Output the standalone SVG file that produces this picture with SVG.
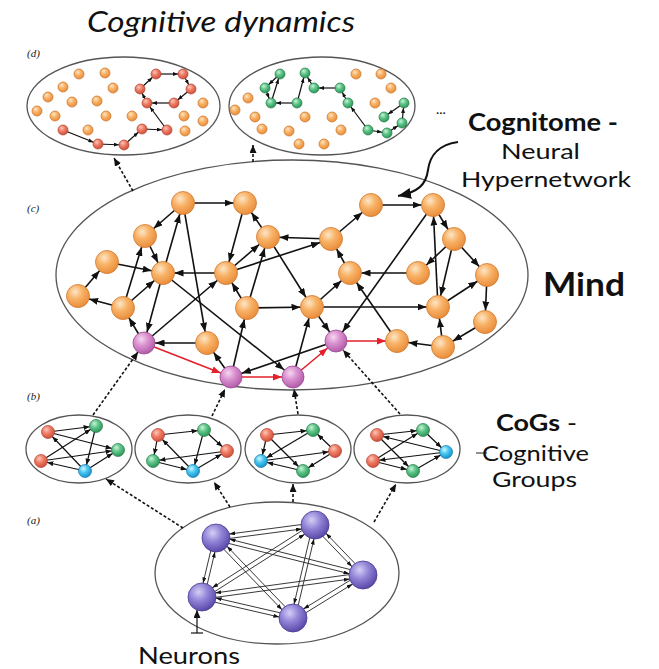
<svg xmlns="http://www.w3.org/2000/svg" width="659" height="669" viewBox="0 0 659 669">
<defs>
<radialGradient id="gOr" cx="0.38" cy="0.32" r="0.7"><stop offset="0" stop-color="#fde6c8"/><stop offset="0.45" stop-color="#f8b266"/><stop offset="1" stop-color="#e98c3a"/></radialGradient>
<radialGradient id="gPk" cx="0.38" cy="0.32" r="0.7"><stop offset="0" stop-color="#f6d6f0"/><stop offset="0.45" stop-color="#d990cf"/><stop offset="1" stop-color="#b15aa8"/></radialGradient>
<radialGradient id="gNe" cx="0.38" cy="0.32" r="0.7"><stop offset="0" stop-color="#d6cff5"/><stop offset="0.45" stop-color="#9385d8"/><stop offset="1" stop-color="#5a47a8"/></radialGradient>
<radialGradient id="gRd" cx="0.38" cy="0.32" r="0.7"><stop offset="0" stop-color="#fcc6b8"/><stop offset="0.45" stop-color="#ef7d66"/><stop offset="1" stop-color="#cf4d38"/></radialGradient>
<radialGradient id="gGr" cx="0.38" cy="0.32" r="0.7"><stop offset="0" stop-color="#c8f3d6"/><stop offset="0.45" stop-color="#5fc58a"/><stop offset="1" stop-color="#2b9556"/></radialGradient>
<radialGradient id="gBl" cx="0.38" cy="0.32" r="0.7"><stop offset="0" stop-color="#d0f6ff"/><stop offset="0.45" stop-color="#48c6f0"/><stop offset="1" stop-color="#1890cc"/></radialGradient>
<marker id="mc" markerUnits="userSpaceOnUse" markerWidth="9" markerHeight="7" refX="20.5" refY="3.5" orient="auto"><path d="M0,0 L9,3.5 L0,7 z" fill="#111"/></marker>
<marker id="mr" markerUnits="userSpaceOnUse" markerWidth="9" markerHeight="7" refX="20" refY="3.5" orient="auto"><path d="M0,0 L9,3.5 L0,7 z" fill="#e3202b"/></marker>
<marker id="mb" markerUnits="userSpaceOnUse" markerWidth="6" markerHeight="5" refX="12.5" refY="2.5" orient="auto"><path d="M0,0 L6,2.5 L0,5 z" fill="#111"/></marker>
<marker id="md" markerUnits="userSpaceOnUse" markerWidth="5" markerHeight="4" refX="10" refY="2" orient="auto"><path d="M0,0 L5,2 L0,4 z" fill="#111"/></marker>
<marker id="mn" markerUnits="userSpaceOnUse" markerWidth="6" markerHeight="4" refX="19.5" refY="2" orient="auto"><path d="M0,0 L6,2 L0,4 z" fill="#111"/></marker>
<marker id="mt" markerUnits="userSpaceOnUse" markerWidth="8" markerHeight="7" refX="8" refY="3.5" orient="auto"><path d="M0,0 L8,3.5 L0,7 z" fill="#111"/></marker>
<marker id="mbig" markerUnits="userSpaceOnUse" markerWidth="13" markerHeight="11" refX="13" refY="5.5" orient="auto"><path d="M0,0 L13,5.5 L0,11 z" fill="#111"/></marker>
</defs>
<style>
.cont{fill:none;stroke:#555;stroke-width:1.3}
.e{stroke:#111;stroke-width:1.6;marker-end:url(#mc)}
.er{stroke:#e3202b;stroke-width:1.6;marker-end:url(#mr)}
.eb{stroke:#111;stroke-width:1.2;marker-end:url(#mb)}
.ed{stroke:#111;stroke-width:1.2;marker-end:url(#md)}
.en{stroke:#222;stroke-width:0.9;marker-end:url(#mn)}
.dash{stroke:#111;stroke-width:1.6;stroke-dasharray:3 2;fill:none;marker-end:url(#mt)}
.or{fill:url(#gOr);stroke:#cf7a32;stroke-width:0.8}
.pk{fill:url(#gPk);stroke:#9a4a92;stroke-width:0.8}
.ne{fill:url(#gNe);stroke:#4a3a90;stroke-width:0.8}
.rd{fill:url(#gRd);stroke:#b04030;stroke-width:0.7}
.gr{fill:url(#gGr);stroke:#237a45;stroke-width:0.7}
.bl{fill:url(#gBl);stroke:#1578a8;stroke-width:0.7}
.lab{font-family:'Liberation Serif',serif;font-style:italic;font-size:11px;fill:#222}
.t{font-family:Lato,'Open Sans',sans-serif;fill:#111}
</style>

<g id="texts">
<text class="t" x="87" y="32" font-size="28" font-style="italic" textLength="268" lengthAdjust="spacingAndGlyphs">Cognitive dynamics</text>
<text class="lab" x="27" y="57">(d)</text>
<text class="lab" x="27" y="212">(c)</text>
<text class="lab" x="27" y="400">(b)</text>
<text class="lab" x="27" y="524">(a)</text>
<text class="t" x="468" y="131" font-size="24" font-weight="bold" textLength="150" lengthAdjust="spacingAndGlyphs">Cognitome -</text>
<text class="t" x="501" y="159" font-size="22" textLength="79" lengthAdjust="spacingAndGlyphs">Neural</text>
<text class="t" x="461" y="187" font-size="22" textLength="170" lengthAdjust="spacingAndGlyphs">Hypernetwork</text>
<text class="t" x="543" y="296" font-size="32" font-weight="bold" textLength="82" lengthAdjust="spacingAndGlyphs">Mind</text>
<text class="t" x="496" y="431" font-size="23" textLength="81" lengthAdjust="spacingAndGlyphs"><tspan font-weight="bold">CoGs</tspan> -</text>
<text class="t" x="482" y="461" font-size="22" textLength="107" lengthAdjust="spacingAndGlyphs">Cognitive</text>
<text class="t" x="492" y="487" font-size="22" textLength="85" lengthAdjust="spacingAndGlyphs">Groups</text>
<text class="t" x="138" y="664" font-size="24" textLength="102" lengthAdjust="spacingAndGlyphs">Neurons</text>
<text class="t" x="436" y="114" font-size="14">...</text>
</g>

<g id="containers">
<ellipse id="d1" class="cont" cx="123.5" cy="106" rx="96.5" ry="49"/>
<ellipse id="d2" class="cont" cx="322" cy="106" rx="93" ry="49"/>
<ellipse id="c" class="cont" cx="292" cy="275" rx="236" ry="115"/>
<ellipse id="b1" class="cont" cx="79" cy="449" rx="53" ry="34"/>
<ellipse id="b2" class="cont" cx="188" cy="449" rx="53" ry="34"/>
<ellipse id="b3" class="cont" cx="298" cy="449" rx="53" ry="34"/>
<ellipse id="b4" class="cont" cx="407" cy="449" rx="53" ry="34"/>
<ellipse id="a" class="cont" cx="277" cy="573" rx="122" ry="71"/>
</g>

<g id="connectors">
<line class="dash" x1="133" y1="191" x2="114" y2="158"/>
<line class="dash" x1="253" y1="162" x2="253" y2="145"/>
<line class="dash" x1="93" y1="415" x2="138" y2="352"/>
<line class="dash" x1="212" y1="416" x2="225" y2="389"/>
<line class="dash" x1="298" y1="414" x2="294" y2="389"/>
<line class="dash" x1="400" y1="414" x2="343" y2="350"/>
<line class="dash" x1="183" y1="528" x2="106" y2="479"/>
<line class="dash" x1="230" y1="507" x2="214" y2="482"/>
<line class="dash" x1="293" y1="502" x2="293" y2="484"/>
<line class="dash" x1="374" y1="522" x2="396" y2="484"/>
<path d="M458,142 C438,145 430,155 428,170 C426,185 418,192 398,196" fill="none" stroke="#111" stroke-width="2" marker-end="url(#mbig)"/>
<line x1="197" y1="633" x2="197" y2="610" stroke="#111" stroke-width="1.2" marker-end="url(#mt)"/>
<line x1="191" y1="633" x2="203" y2="633" stroke="#111" stroke-width="1.2"/>
<line x1="476" y1="453" x2="487" y2="453" stroke="#222" stroke-width="1"/>

<line class="e" x1="183" y1="203" x2="245" y2="203"/>
<line class="e" x1="183" y1="203" x2="145" y2="236"/>
<line class="e" x1="163" y1="273" x2="183" y2="203"/>
<line class="e" x1="183" y1="203" x2="207" y2="343"/>
<line class="e" x1="245" y1="203" x2="226" y2="273"/>
<line class="e" x1="268" y1="237" x2="245" y2="203"/>
<line class="e" x1="331" y1="239" x2="268" y2="237"/>
<line class="e" x1="226" y1="273" x2="268" y2="237"/>
<line class="e" x1="247" y1="308" x2="268" y2="237"/>
<line class="e" x1="268" y1="237" x2="312" y2="307"/>
<line class="e" x1="145" y1="236" x2="163" y2="273"/>
<line class="e" x1="107" y1="262" x2="163" y2="273"/>
<line class="e" x1="226" y1="273" x2="163" y2="273"/>
<line class="e" x1="226" y1="273" x2="331" y2="239"/>
<line class="e" x1="78" y1="296" x2="107" y2="262"/>
<line class="e" x1="123" y1="308" x2="78" y2="296"/>
<line class="e" x1="123" y1="308" x2="145" y2="236"/>
<line class="e" x1="123" y1="308" x2="163" y2="273"/>
<line class="e" x1="163" y1="273" x2="144" y2="343"/>
<line class="e" x1="163" y1="273" x2="293" y2="377"/>
<line class="e" x1="144" y1="343" x2="123" y2="308"/>
<line class="e" x1="144" y1="343" x2="226" y2="273"/>
<line class="e" x1="207" y1="343" x2="144" y2="343"/>
<line class="er" x1="144" y1="343" x2="231" y2="377"/>
<line class="e" x1="231" y1="377" x2="207" y2="343"/>
<line class="e" x1="231" y1="377" x2="247" y2="308"/>
<line class="e" x1="247" y1="308" x2="226" y2="273"/>
<line class="e" x1="247" y1="308" x2="312" y2="307"/>
<line class="e" x1="336" y1="341" x2="231" y2="377"/>
<line class="er" x1="231" y1="377" x2="293" y2="377"/>
<line class="e" x1="371" y1="205" x2="433" y2="205"/>
<line class="e" x1="331" y1="239" x2="371" y2="205"/>
<line class="e" x1="350" y1="273" x2="331" y2="239"/>
<line class="e" x1="418" y1="273" x2="350" y2="273"/>
<line class="e" x1="312" y1="307" x2="350" y2="273"/>
<line class="e" x1="312" y1="307" x2="438" y2="307"/>
<line class="e" x1="312" y1="307" x2="336" y2="341"/>
<line class="e" x1="293" y1="377" x2="312" y2="307"/>
<line class="er" x1="293" y1="377" x2="336" y2="341"/>
<line class="er" x1="336" y1="341" x2="397" y2="341"/>
<line class="e" x1="433" y1="205" x2="336" y2="341"/>
<line class="e" x1="443" y1="347" x2="397" y2="341"/>
<line class="e" x1="397" y1="341" x2="350" y2="273"/>
<line class="e" x1="454" y1="239" x2="418" y2="273"/>
<line class="e" x1="433" y1="205" x2="454" y2="239"/>
<line class="e" x1="438" y1="307" x2="433" y2="205"/>
<line class="e" x1="454" y1="239" x2="438" y2="307"/>
<line class="e" x1="454" y1="239" x2="487" y2="275"/>
<line class="e" x1="438" y1="307" x2="487" y2="275"/>
<line class="e" x1="487" y1="275" x2="485" y2="322"/>
<line class="e" x1="485" y1="322" x2="443" y2="347"/>
<line class="e" x1="443" y1="347" x2="438" y2="307"/>

<line class="eb" x1="48" y1="432" x2="96" y2="426"/>
<line class="eb" x1="48" y1="432" x2="118" y2="450"/>
<line class="eb" x1="41" y1="461" x2="96" y2="426"/>
<line class="eb" x1="41" y1="461" x2="118" y2="450"/>
<line class="eb" x1="96" y1="426" x2="85" y2="471"/>
<line class="eb" x1="85" y1="471" x2="41" y2="461"/>
<line class="eb" x1="85" y1="471" x2="118" y2="450"/>
<line class="eb" x1="85" y1="471" x2="48" y2="432"/>

<line class="eb" x1="158" y1="435" x2="204" y2="430"/>
<line class="eb" x1="158" y1="435" x2="153" y2="461"/>
<line class="eb" x1="204" y1="430" x2="227" y2="451"/>
<line class="eb" x1="227" y1="451" x2="153" y2="461"/>
<line class="eb" x1="153" y1="461" x2="193" y2="471"/>
<line class="eb" x1="193" y1="471" x2="158" y2="435"/>
<line class="eb" x1="204" y1="430" x2="193" y2="471"/>
<line class="eb" x1="193" y1="471" x2="227" y2="451"/>

<line class="eb" x1="267" y1="435" x2="313" y2="430"/>
<line class="eb" x1="267" y1="435" x2="261" y2="461"/>
<line class="eb" x1="313" y1="430" x2="261" y2="461"/>
<line class="eb" x1="261" y1="461" x2="335" y2="451"/>
<line class="eb" x1="267" y1="435" x2="303" y2="471"/>
<line class="eb" x1="303" y1="471" x2="261" y2="461"/>
<line class="eb" x1="335" y1="451" x2="313" y2="430"/>
<line class="eb" x1="335" y1="451" x2="303" y2="471"/>

<line class="eb" x1="377" y1="435" x2="423" y2="430"/>
<line class="eb" x1="423" y1="430" x2="446" y2="452"/>
<line class="eb" x1="446" y1="452" x2="377" y2="435"/>
<line class="eb" x1="373" y1="461" x2="423" y2="430"/>
<line class="eb" x1="446" y1="452" x2="373" y2="461"/>
<line class="eb" x1="377" y1="435" x2="413" y2="471"/>
<line class="eb" x1="373" y1="461" x2="413" y2="471"/>
<line class="eb" x1="413" y1="471" x2="446" y2="452"/>

<line class="ed" x1="63" y1="130" x2="98" y2="144"/>
<line class="ed" x1="98" y1="144" x2="124" y2="145"/>
<line class="ed" x1="124" y1="145" x2="142" y2="129"/>
<line class="ed" x1="142" y1="129" x2="167" y2="130"/>
<line class="ed" x1="167" y1="130" x2="147" y2="103"/>
<line class="ed" x1="174" y1="103" x2="147" y2="103"/>
<line class="ed" x1="147" y1="103" x2="140" y2="89"/>
<line class="ed" x1="140" y1="89" x2="156" y2="74"/>
<line class="ed" x1="156" y1="74" x2="183" y2="74"/>
<line class="ed" x1="183" y1="74" x2="191" y2="89"/>
<line class="ed" x1="191" y1="89" x2="174" y2="103"/>

<line class="ed" x1="280" y1="74" x2="265" y2="88"/>
<line class="ed" x1="265" y1="88" x2="271" y2="103"/>
<line class="ed" x1="271" y1="103" x2="280" y2="74"/>
<line class="ed" x1="297" y1="103" x2="271" y2="103"/>
<line class="ed" x1="297" y1="103" x2="305" y2="73"/>
<line class="ed" x1="314" y1="88" x2="305" y2="73"/>
<line class="ed" x1="340" y1="88" x2="314" y2="88"/>
<line class="ed" x1="348" y1="103" x2="340" y2="88"/>
<line class="ed" x1="368" y1="130" x2="348" y2="103"/>
<line class="ed" x1="368" y1="130" x2="387" y2="133"/>
<line class="ed" x1="387" y1="133" x2="402" y2="123"/>
<line class="ed" x1="402" y1="123" x2="404" y2="103"/>
<line class="ed" x1="404" y1="103" x2="384" y2="117"/>

<line class="en" x1="216.3" y1="540.2" x2="315.3" y2="527.2"/><line class="en" x1="314.7" y1="522.8" x2="215.7" y2="535.8"/>
<line class="en" x1="215.5" y1="540.1" x2="362.5" y2="577.1"/><line class="en" x1="363.5" y1="572.9" x2="216.5" y2="535.9"/>
<line class="en" x1="213.9" y1="537.5" x2="199.9" y2="596.5"/><line class="en" x1="204.1" y1="597.5" x2="218.1" y2="538.5"/>
<line class="en" x1="214.4" y1="539.5" x2="291.4" y2="619.5"/><line class="en" x1="294.6" y1="616.5" x2="217.6" y2="536.5"/>
<line class="en" x1="313.4" y1="526.5" x2="361.4" y2="576.5"/><line class="en" x1="364.6" y1="573.5" x2="316.6" y2="523.5"/>
<line class="en" x1="313.8" y1="523.1" x2="200.8" y2="595.1"/><line class="en" x1="203.2" y1="598.9" x2="316.2" y2="526.9"/>
<line class="en" x1="312.9" y1="524.5" x2="290.9" y2="617.5"/><line class="en" x1="295.1" y1="618.5" x2="317.1" y2="525.5"/>
<line class="en" x1="362.7" y1="572.8" x2="201.7" y2="594.8"/><line class="en" x1="202.3" y1="599.2" x2="363.3" y2="577.2"/>
<line class="en" x1="361.8" y1="573.1" x2="291.8" y2="616.1"/><line class="en" x1="294.2" y1="619.9" x2="364.2" y2="576.9"/>
<line class="en" x1="201.5" y1="599.1" x2="292.5" y2="620.1"/><line class="en" x1="293.5" y1="615.9" x2="202.5" y2="594.9"/>
</g>

<g id="nodes-d">
<g id="d1-dots">
<circle class="or" cx="79" cy="74" r="5"/><circle class="or" cx="105" cy="73" r="5"/><circle class="or" cx="63" cy="87" r="5"/><circle class="or" cx="113" cy="88" r="5"/>
<circle class="or" cx="48" cy="97" r="5"/><circle class="or" cx="72" cy="102" r="5"/><circle class="or" cx="97" cy="101" r="5"/><circle class="or" cx="37" cy="111" r="5"/>
<circle class="or" cx="55" cy="116" r="5"/><circle class="or" cx="106" cy="116" r="5"/><circle class="or" cx="132" cy="116" r="5"/><circle class="or" cx="88" cy="130" r="5"/>
<circle class="or" cx="203" cy="103" r="5"/><circle class="or" cx="184" cy="116" r="5"/><circle class="or" cx="203" cy="121" r="5"/><circle class="or" cx="185" cy="131" r="5"/>
<circle class="rd" cx="63" cy="130" r="5"/><circle class="rd" cx="98" cy="144" r="5"/><circle class="rd" cx="124" cy="145" r="5"/><circle class="rd" cx="142" cy="129" r="5"/>
<circle class="rd" cx="167" cy="130" r="5"/><circle class="rd" cx="147" cy="103" r="5"/><circle class="rd" cx="174" cy="103" r="5"/><circle class="rd" cx="140" cy="89" r="5"/>
<circle class="rd" cx="156" cy="74" r="5"/><circle class="rd" cx="183" cy="74" r="5"/><circle class="rd" cx="191" cy="89" r="5"/>
</g>
<g id="d2-dots">
<circle class="or" cx="248" cy="98" r="5"/><circle class="or" cx="235" cy="110" r="5"/><circle class="or" cx="255" cy="117" r="5"/><circle class="or" cx="305" cy="117" r="5"/>
<circle class="or" cx="332" cy="117" r="5"/><circle class="or" cx="262" cy="129" r="5"/><circle class="or" cx="289" cy="131" r="5"/><circle class="or" cx="341" cy="130" r="5"/>
<circle class="or" cx="299" cy="144" r="5"/><circle class="or" cx="324" cy="144" r="5"/><circle class="or" cx="356" cy="74" r="5"/><circle class="or" cx="381" cy="74" r="5"/>
<circle class="or" cx="391" cy="88" r="5"/><circle class="or" cx="375" cy="103" r="5"/>
<circle class="gr" cx="280" cy="74" r="5"/><circle class="gr" cx="305" cy="73" r="5"/><circle class="gr" cx="265" cy="88" r="5"/><circle class="gr" cx="314" cy="88" r="5"/>
<circle class="gr" cx="340" cy="88" r="5"/><circle class="gr" cx="271" cy="103" r="5"/><circle class="gr" cx="297" cy="103" r="5"/><circle class="gr" cx="348" cy="103" r="5"/>
<circle class="gr" cx="404" cy="103" r="5"/><circle class="gr" cx="384" cy="117" r="5"/><circle class="gr" cx="402" cy="123" r="5"/><circle class="gr" cx="368" cy="130" r="5"/>
<circle class="gr" cx="387" cy="133" r="5"/>
</g>
</g>

<g id="nodes-c">
<g id="nA"><circle class="or" cx="183" cy="203" r="11.5"/></g>
<g id="nB"><circle class="or" cx="245" cy="203" r="11.5"/></g>
<g id="nC"><circle class="or" cx="145" cy="236" r="11.5"/></g>
<g id="nD"><circle class="or" cx="268" cy="237" r="11.5"/></g>
<g id="nE"><circle class="or" cx="107" cy="262" r="11.5"/></g>
<g id="nF"><circle class="or" cx="163" cy="273" r="11.5"/></g>
<g id="nG"><circle class="or" cx="226" cy="273" r="11.5"/></g>
<g id="nH"><circle class="or" cx="78" cy="296" r="11.5"/></g>
<g id="nI"><circle class="or" cx="123" cy="308" r="11.5"/></g>
<g id="nJ"><circle class="or" cx="247" cy="308" r="11.5"/></g>
<g id="nK"><circle class="or" cx="207" cy="343" r="11.5"/></g>
<g id="nL"><circle class="or" cx="371" cy="205" r="11.5"/></g>
<g id="nM"><circle class="or" cx="433" cy="205" r="11.5"/></g>
<g id="nN"><circle class="or" cx="331" cy="239" r="11.5"/></g>
<g id="nO"><circle class="or" cx="454" cy="239" r="11.5"/></g>
<g id="nQ"><circle class="or" cx="350" cy="273" r="11.5"/></g>
<g id="nR"><circle class="or" cx="418" cy="273" r="11.5"/></g>
<g id="nS"><circle class="or" cx="487" cy="275" r="11.5"/></g>
<g id="nT"><circle class="or" cx="312" cy="307" r="11.5"/></g>
<g id="nU"><circle class="or" cx="438" cy="307" r="11.5"/></g>
<g id="nV"><circle class="or" cx="485" cy="322" r="11.5"/></g>
<g id="nW"><circle class="or" cx="397" cy="341" r="11.5"/></g>
<g id="nX"><circle class="or" cx="443" cy="347" r="11.5"/></g>
<g id="nP1"><circle class="pk" cx="144" cy="343" r="11"/></g>
<g id="nP2"><circle class="pk" cx="231" cy="377" r="11"/></g>
<g id="nP3"><circle class="pk" cx="293" cy="377" r="11"/></g>
<g id="nP4"><circle class="pk" cx="336" cy="341" r="11"/></g>
</g>

<g id="nodes-b">
<g id="b1-nodes"><circle class="rd" cx="48" cy="432" r="6.5"/><circle class="gr" cx="96" cy="426" r="6.5"/><circle class="gr" cx="118" cy="450" r="6.5"/><circle class="rd" cx="41" cy="461" r="6.5"/><circle class="bl" cx="85" cy="471" r="6.5"/></g>
<g id="b2-nodes"><circle class="rd" cx="158" cy="435" r="6.5"/><circle class="gr" cx="204" cy="430" r="6.5"/><circle class="rd" cx="227" cy="451" r="6.5"/><circle class="gr" cx="153" cy="461" r="6.5"/><circle class="bl" cx="193" cy="471" r="6.5"/></g>
<g id="b3-nodes"><circle class="rd" cx="267" cy="435" r="6.5"/><circle class="gr" cx="313" cy="430" r="6.5"/><circle class="rd" cx="335" cy="451" r="6.5"/><circle class="bl" cx="261" cy="461" r="6.5"/><circle class="gr" cx="303" cy="471" r="6.5"/></g>
<g id="b4-nodes"><circle class="rd" cx="377" cy="435" r="6.5"/><circle class="gr" cx="423" cy="430" r="6.5"/><circle class="bl" cx="446" cy="452" r="6.5"/><circle class="rd" cx="373" cy="461" r="6.5"/><circle class="gr" cx="413" cy="471" r="6.5"/></g>
</g>

<g id="nodes-a">
<g id="neuron1"><circle class="ne" cx="216" cy="538" r="14"/></g>
<g id="neuron2"><circle class="ne" cx="315" cy="525" r="14"/></g>
<g id="neuron3"><circle class="ne" cx="363" cy="575" r="14"/></g>
<g id="neuron4"><circle class="ne" cx="202" cy="597" r="14"/></g>
<g id="neuron5"><circle class="ne" cx="293" cy="618" r="14"/></g>
</g>
</svg>
